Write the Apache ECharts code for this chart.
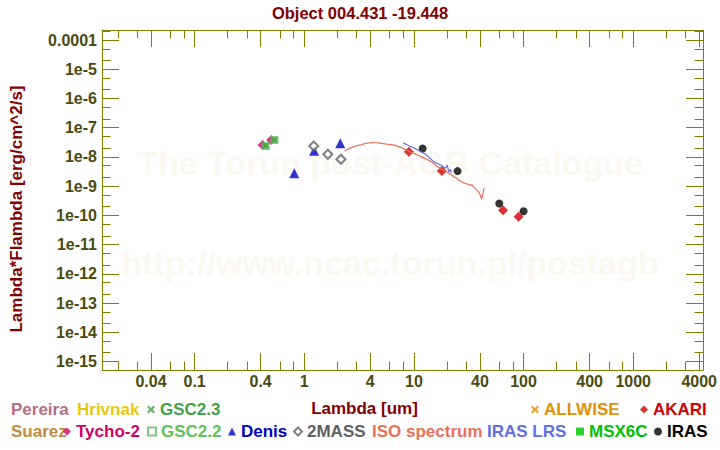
<!DOCTYPE html>
<html>
<head>
<meta charset="utf-8">
<script src="https://cdn.jsdelivr.net/npm/echarts@6/dist/echarts.min.js"></script>
<style>html,body{margin:0;padding:0;background:#fff}#c{width:720px;height:450px}</style>
</head>
<body>
<div id="c"></div>
<script>
// ---------- DATA ----------
const xTickValues = [0.04, 0.1, 0.4, 1, 4, 10, 40, 100, 400, 1000, 4000];
const xTickLabels = ['0.04', '0.1', '0.4', '1', '4', '10', '40', '100', '400', '1000', '4000'];
const yTickValues = [1e-4, 1e-5, 1e-6, 1e-7, 1e-8, 1e-9, 1e-10, 1e-11, 1e-12, 1e-13, 1e-14, 1e-15];
const yTickLabels = ['0.0001', '1e-5', '1e-6', '1e-7', '1e-8', '1e-9', '1e-10', '1e-11', '1e-12', '1e-13', '1e-14', '1e-15'];

const tychoLambda = [0.417, 0.50];
const tychoFlux = [2.56e-8, 3.79e-8];
const gsc22Lambda = [0.445, 0.534];
const gsc22Flux = [2.37e-8, 3.79e-8];
const gsc23Lambda = [0.445, 0.534];
const gsc23Flux = [2.37e-8, 3.79e-8];
const denisLambda = [0.81, 1.23, 2.13];
const denisFlux = [2.75e-9, 1.63e-8, 2.92e-8];
const twomassLambda = [1.22, 1.64, 2.16];
const twomassFlux = [2.37e-8, 1.23e-8, 8.3e-9];
const akariLambda = [9, 18, 65, 90];
const akariFlux = [1.5e-8, 3.27e-9, 1.51e-10, 8.9e-11];
const irasLambda = [12, 25, 60, 100];
const irasFlux = [1.95e-8, 3.27e-9, 2.55e-10, 1.39e-10];
const allwiseLambda = [];
const allwiseFlux = [];
const msxLambda = [];
const msxFlux = [];

const isoLambda = [2.33, 2.45, 2.62, 2.8, 3.03, 3.3, 3.58, 3.9, 4.23, 4.55, 4.89, 5.25, 5.65, 6.1, 6.67, 7.2, 7.71, 8.2, 8.74, 9.4, 10.1, 11.2, 12.4, 13.5, 14.7, 16.0, 17.6, 18.8, 20.0, 21.5, 23.2, 24.4, 25.7, 27.0, 28.5, 30.5, 32.8, 34.0, 35.1, 36.2, 37.3, 38.5, 39.7, 40.5, 41.4, 42.1, 42.7, 43.2, 43.6];
const isoFlux = [1.62e-8, 1.75e-8, 2.0e-8, 2.2e-8, 2.44e-8, 2.6e-8, 2.85e-8, 3.0e-8, 3.09e-8, 3.05e-8, 2.97e-8, 2.85e-8, 2.74e-8, 2.65e-8, 2.53e-8, 2.3e-8, 2.08e-8, 1.85e-8, 1.62e-8, 1.45e-8, 1.3e-8, 1.1e-8, 9.1e-9, 7.8e-9, 6.64e-9, 5.0e-9, 3.82e-9, 3.5e-9, 3.02e-9, 2.55e-9, 2.08e-9, 1.9e-9, 1.6e-9, 1.45e-9, 1.3e-9, 1.2e-9, 1.08e-9, 1.1e-9, 9.2e-10, 8.4e-10, 7.3e-10, 6.6e-10, 5.75e-10, 4.6e-10, 3.6e-10, 4.6e-10, 5.75e-10, 7.0e-10, 8.5e-10];

const lrsLambda = [7.92, 8.5, 9.1, 9.9, 10.8, 11.8, 12.8, 14.0, 15.2, 16.4, 17.5, 18.5, 19.4, 20.1, 20.8, 21.5, 21.9];
const lrsFlux = [3.06e-8, 2.7e-8, 2.37e-8, 2.05e-8, 1.73e-8, 1.45e-8, 1.23e-8, 9.0e-9, 6.86e-9, 6.0e-9, 5.3e-9, 4.6e-9, 4.08e-9, 5.3e-9, 3.05e-9, 3.86e-9, 2.9e-9];

// ---------- LAYOUT / STYLE ----------
const FONT = "'Liberation Sans', Arial, Helvetica, sans-serif";
const OLIVE = '#808000';
const TICKTXT = '#4a4a10';
const DARKRED = '#800000';
const XMIN = 0.0143, XMAX = 4330;
const YMIN = 5.12e-16, YMAX = 2.2e-4;

const xMinorTicks = [];
const yMinorTicks = [];
for (let e = -2; e <= 3; e++) {
  [2, 3, 6, 8].forEach(m => xMinorTicks.push(m * Math.pow(10, e)));
}
for (let e = -16; e <= -4; e++) {
  [2, 5].forEach(m => yMinorTicks.push(m * Math.pow(10, e)));
}
function pairs(a, b) { return a.map((v, i) => [v, b[i]]); }
function nearestLabel(vals, labs, v) {
  let best = 0, bd = Infinity;
  vals.forEach((t, i) => { const d = Math.abs(Math.log10(t) - Math.log10(v)); if (d < bd) { bd = d; best = i; } });
  return labs[best];
}
const XSHAPE = 'path://M2,0 L5,3 L8,0 L10,2 L7,5 L10,8 L8,10 L5,7 L2,10 L0,8 L3,5 L0,2 Z';

const colors = {
  'Pereira': '#b0708a', 'Hrivnak': '#e8c810', 'GSC2.3': '#44a044', 'ALLWISE': '#e09000', 'AKARI': '#d00000',
  'Suarez': '#c08a40', 'Tycho-2': '#d0006a', 'GSC2.2': '#60c060', 'Denis': '#0000c0', '2MASS': '#606060',
  'ISO spectrum': '#e8705a', 'IRAS LRS': '#6070e0', 'MSX6C': '#00c000', 'IRAS': '#000000'
};

function xAxisDef(pos, major, showLine, withLabels) {
  return {
    type: 'log', logBase: 10, min: XMIN, max: XMAX, position: pos, gridIndex: 0,
    axisLine: { show: showLine, lineStyle: { color: OLIVE, width: 1 } },
    axisTick: { show: true, inside: true, length: major ? 17 : 8.5, customValues: major ? xTickValues : xMinorTicks, lineStyle: { color: OLIVE, width: 1 } },
    axisLabel: withLabels ? { show: true, customValues: xTickValues, margin: 3, color: TICKTXT, fontSize: 16, fontWeight: 'bold', fontFamily: FONT,
      formatter: v => nearestLabel(xTickValues, xTickLabels, v) } : { show: false },
    splitLine: { show: false }, minorTick: { show: false }, minorSplitLine: { show: false },
    name: withLabels ? 'Lambda [um]' : '', nameLocation: 'middle', nameGap: 30,
    nameTextStyle: { color: DARKRED, fontSize: 17, fontWeight: 'bold', fontFamily: FONT, padding: [0, 76, 0, 0] }
  };
}
function yAxisDef(pos, major, showLine, withLabels) {
  return {
    type: 'log', logBase: 10, min: YMIN, max: YMAX, position: pos, gridIndex: 0,
    axisLine: { show: showLine, lineStyle: { color: OLIVE, width: 1 } },
    axisTick: { show: true, inside: true, length: major ? 17 : 8.5, customValues: major ? yTickValues : yMinorTicks, lineStyle: { color: OLIVE, width: 1 } },
    axisLabel: withLabels ? { show: true, customValues: yTickValues, margin: 5, color: TICKTXT, fontSize: 16, fontWeight: 'bold', fontFamily: FONT,
      formatter: v => nearestLabel(yTickValues, yTickLabels, v) } : { show: false },
    splitLine: { show: false }, minorTick: { show: false }, minorSplitLine: { show: false },
    name: withLabels ? 'Lambda*Flambda [erg/cm^2/s]' : '', nameLocation: 'middle', nameGap: 77,
    nameTextStyle: { color: DARKRED, fontSize: 17, fontWeight: 'bold', fontFamily: FONT, padding: [0, 18, 0, 0] }
  };
}

// legend placement: [name, textStartX, rowCenterY, icon]
const legendLayout = [
  ['Pereira', 11, 410, 'none'], ['Hrivnak', 77, 410, 'none'], ['GSC2.3', 160, 410, XSHAPE],
  ['ALLWISE', 544, 410, XSHAPE], ['AKARI', 653, 410, 'diamond'],
  ['Suarez', 11, 432, 'none'], ['Tycho-2', 76, 432, 'diamond'], ['GSC2.2', 160, 432, 'emptyRect'],
  ['Denis', 241, 432, 'triangle'], ['2MASS', 306, 432, 'emptyDiamond'], ['ISO spectrum', 372, 432, 'none'],
  ['IRAS LRS', 487, 432, 'none'], ['MSX6C', 589, 432, 'rect'], ['IRAS', 667, 432, 'circle']
];
const legends = legendLayout.map(([name, tx, cy, icon]) => ({
  show: true, data: [{ name: name, icon: icon, textStyle: { color: colors[name] } }],
  left: tx - 13, top: cy - 9, itemWidth: 8, itemHeight: 8, itemGap: 0, padding: 0,
  selectedMode: false, orient: 'horizontal',
  textStyle: { fontSize: 17, fontWeight: 'bold', fontFamily: FONT }
}));

function scatter(name, lam, flux, symbol, size, extra) {
  return Object.assign({
    name: name, type: 'scatter', xAxisIndex: 0, yAxisIndex: 0,
    data: pairs(lam, flux), symbol: symbol, symbolSize: size,
    itemStyle: { color: colors[name] }, silent: true
  }, extra || {});
}

const option = {
  animation: false,
  backgroundColor: '#ffffff',
  title: {
    text: 'Object 004.431 -19.448', left: 'center', top: -1,
    textStyle: { color: DARKRED, fontSize: 16.5, fontWeight: 'bold', fontFamily: FONT }
  },
  grid: { left: 93, right: 17, top: 30, bottom: 80, containLabel: false },
  xAxis: [xAxisDef('bottom', true, true, true), xAxisDef('bottom', false, false, false), xAxisDef('top', true, true, false), xAxisDef('top', false, false, false)],
  yAxis: [yAxisDef('left', true, true, true), yAxisDef('left', false, false, false), yAxisDef('right', true, true, false), yAxisDef('right', false, false, false)],
  legend: legends,
  graphic: [
    { type: 'text', x: 390, y: 163, z: -10, silent: true, style: { text: 'The Torun post-AGB Catalogue', font: "bold 34px 'Liberation Sans', Arial, sans-serif", fill: '#fbf8f2', align: 'center', verticalAlign: 'middle' } },
    { type: 'text', x: 390, y: 263, z: -10, silent: true, style: { text: 'http://www.ncac.torun.pl/postagb', font: "bold 34px 'Liberation Sans', Arial, sans-serif", fill: '#fbf8f2', align: 'center', verticalAlign: 'middle' } }
  ],
  series: [
    { name: 'Pereira', type: 'scatter', data: [], symbol: 'none', itemStyle: { color: colors['Pereira'] } },
    { name: 'Hrivnak', type: 'scatter', data: [], symbol: 'none', itemStyle: { color: colors['Hrivnak'] } },
    { name: 'Suarez', type: 'scatter', data: [], symbol: 'none', itemStyle: { color: colors['Suarez'] } },
    { name: 'ISO spectrum', type: 'line', data: pairs(isoLambda, isoFlux), showSymbol: false, symbol: 'none',
      lineStyle: { color: colors['ISO spectrum'], width: 1.2 }, itemStyle: { color: colors['ISO spectrum'] }, silent: true },
    { name: 'IRAS LRS', type: 'line', data: pairs(lrsLambda, lrsFlux), showSymbol: false, symbol: 'none',
      lineStyle: { color: colors['IRAS LRS'], width: 1.1 }, itemStyle: { color: colors['IRAS LRS'] }, silent: true },
    scatter('ALLWISE', allwiseLambda, allwiseFlux, XSHAPE, 8),
    scatter('MSX6C', msxLambda, msxFlux, 'rect', 8),
    scatter('Denis', denisLambda, denisFlux, 'triangle', 10),
    scatter('2MASS', twomassLambda, twomassFlux, 'emptyDiamond', 9, { itemStyle: { color: colors['2MASS'], borderColor: colors['2MASS'], borderWidth: 1.8 } }),
    scatter('Tycho-2', tychoLambda, tychoFlux, 'diamond', 10),
    scatter('GSC2.2', gsc22Lambda, gsc22Flux, 'rect', 8),
    scatter('GSC2.3', gsc23Lambda, gsc23Flux, XSHAPE, 7),
    scatter('IRAS', irasLambda, irasFlux, 'circle', 8),
    scatter('AKARI', akariLambda, akariFlux, 'diamond', 10)
  ]
};

const chart = echarts.init(document.getElementById('c'), null, { renderer: 'svg', width: 720, height: 450 });
chart.setOption(option);
</script>
</body>
</html>
